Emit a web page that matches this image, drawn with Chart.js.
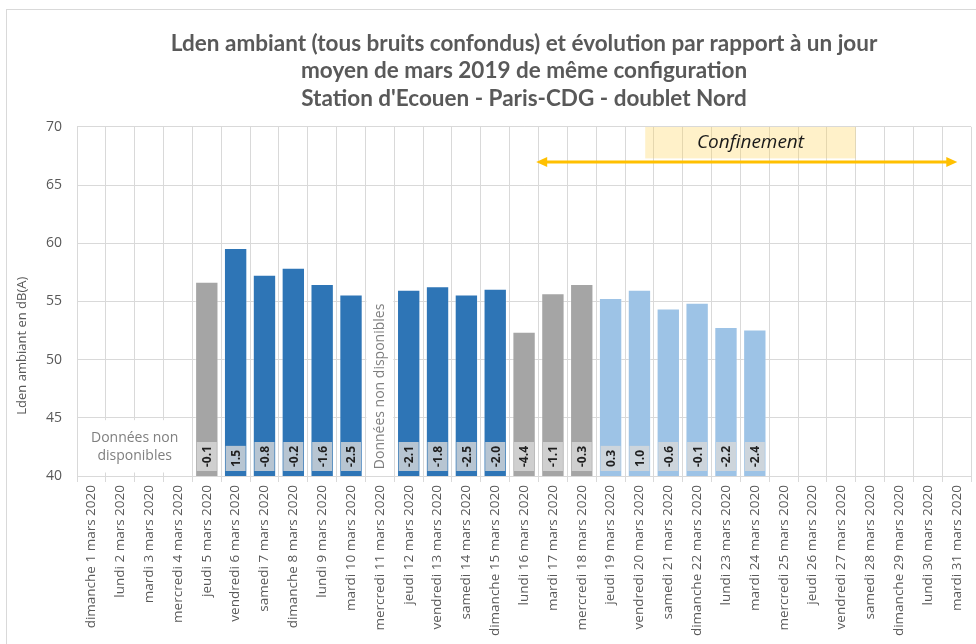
<!DOCTYPE html>
<html lang="fr">
<head>
<meta charset="utf-8">
<title>Lden ambiant - Station d'Ecouen</title>
<script src="https://cdn.jsdelivr.net/npm/chart.js@4.4.1/dist/chart.umd.min.js"></script>
<style>
  html, body { margin: 0; padding: 0; background: #fff; overflow: hidden; }
  #frame { position: absolute; left: 6px; top: 9px; width: 990px; height: 660px; border: 1px solid #d9d9d9; box-sizing: border-box; }
  #wrap { position: absolute; left: 0; top: 0; width: 976px; height: 644px; }
</style>
</head>
<body>
<div id="frame"></div>
<div id="wrap"><canvas id="chart"></canvas></div>
<script>
// ---------------- Data ----------------
const days = [
    "dimanche 1 mars 2020", "lundi 2 mars 2020", "mardi 3 mars 2020", "mercredi 4 mars 2020",
    "jeudi 5 mars 2020", "vendredi 6 mars 2020", "samedi 7 mars 2020", "dimanche 8 mars 2020",
    "lundi 9 mars 2020", "mardi 10 mars 2020", "mercredi 11 mars 2020", "jeudi 12 mars 2020",
    "vendredi 13 mars 2020", "samedi 14 mars 2020", "dimanche 15 mars 2020", "lundi 16 mars 2020",
    "mardi 17 mars 2020", "mercredi 18 mars 2020", "jeudi 19 mars 2020", "vendredi 20 mars 2020",
    "samedi 21 mars 2020", "dimanche 22 mars 2020", "lundi 23 mars 2020", "mardi 24 mars 2020",
    "mercredi 25 mars 2020", "jeudi 26 mars 2020", "vendredi 27 mars 2020", "samedi 28 mars 2020",
    "dimanche 29 mars 2020", "lundi 30 mars 2020", "mardi 31 mars 2020"
];

// Lden (dB(A)) per day, split by bar colour
const ldenGrey = [null, null, null, null, 56.7, null, null, null, null, null, null, null, null, null, null,
    52.4, 55.7, 56.5, null, null, null, null, null, null, null, null, null, null, null, null, null];
const ldenBlue = [null, null, null, null, null, 59.6, 57.3, 57.9, 56.5, 55.6, null, 56.0, 56.3, 55.6, 56.1,
    null, null, null, null, null, null, null, null, null, null, null, null, null, null, null, null];
const ldenLightBlue = [null, null, null, null, null, null, null, null, null, null, null, null, null, null, null,
    null, null, null, 55.3, 56.0, 54.4, 54.9, 52.8, 52.6, null, null, null, null, null, null, null];

// evolution vs. average March 2019 day (dB)
const deltas = [null, null, null, null, -0.1, 1.5, -0.8, -0.2, -1.6, -2.5, null, -2.1, -1.8, -2.5, -2.0,
    -4.4, -1.1, -0.3, 0.3, 1.0, -0.6, -0.1, -2.2, -2.4, null, null, null, null, null, null, null];

const yTicks = [40, 45, 50, 55, 60, 65, 70];

const FONT = "'Open Sans', 'Noto Sans', sans-serif";
const TXT = "#595959";
const GRID = "#d9d9d9";

// ---------------- Annotations ----------------
const annotations = {
    id: "annotations",
    beforeDatasetsDraw(chart) {
        const { ctx, chartArea } = chart;
        const x = chart.scales.x, y = chart.scales.y;
        const step = x.getPixelForValue(1) - x.getPixelForValue(0);
        ctx.save();

        // no data: first days
        const l0 = x.getPixelForValue(0) - step / 2 + 1;
        const r0 = x.getPixelForValue(3) + step / 2 - 3;
        ctx.fillStyle = "#fff";
        ctx.fillRect(l0, y.getPixelForValue(44.8), r0 - l0, y.getPixelForValue(40.3) - y.getPixelForValue(44.8));
        ctx.fillStyle = "#7f7f7f";
        ctx.font = "14px " + FONT;
        ctx.textAlign = "center";
        ctx.textBaseline = "middle";
        const cx0 = (x.getPixelForValue(1) + x.getPixelForValue(2)) / 2;
        ctx.fillText("Données non", cx0, y.getPixelForValue(43.3));
        ctx.fillText("disponibles", cx0, y.getPixelForValue(41.7));

        // no data: 11 mars (vertical)
        const cx1 = x.getPixelForValue(10);
        ctx.fillStyle = "#fff";
        ctx.fillRect(cx1 - step / 2 + 1, y.getPixelForValue(55.2), step - 2, y.getPixelForValue(40.3) - y.getPixelForValue(55.2));
        ctx.translate(cx1, y.getPixelForValue(47.7));
        ctx.rotate(-Math.PI / 2);
        ctx.fillStyle = "#7f7f7f";
        ctx.fillText("Données non disponibles", 0, 0);
        ctx.setTransform(1, 0, 0, 1, 0, 0);

        // confinement box
        const bl = x.getPixelForValue(19.2), br = x.getPixelForValue(26.5);
        ctx.fillStyle = "rgba(255, 214, 90, 0.33)";
        ctx.fillRect(bl, chartArea.top, br - bl, y.getPixelForValue(67.3) - chartArea.top);
        ctx.fillStyle = "#1a1a1a";
        ctx.font = "italic 19px " + FONT;
        ctx.fillText("Confinement", (bl + br) / 2, y.getPixelForValue(68.7));

        // double arrow
        const ay = y.getPixelForValue(67.0);
        const ax1 = x.getPixelForValue(15.42), ax2 = x.getPixelForValue(30.02);
        ctx.strokeStyle = "#FFC000";
        ctx.fillStyle = "#FFC000";
        ctx.lineWidth = 3;
        ctx.beginPath();
        ctx.moveTo(ax1 + 8, ay);
        ctx.lineTo(ax2 - 8, ay);
        ctx.stroke();
        ctx.beginPath();
        ctx.moveTo(ax1, ay); ctx.lineTo(ax1 + 11, ay - 5); ctx.lineTo(ax1 + 11, ay + 5); ctx.closePath();
        ctx.moveTo(ax2, ay); ctx.lineTo(ax2 - 11, ay - 5); ctx.lineTo(ax2 - 11, ay + 5); ctx.closePath();
        ctx.fill();
        ctx.restore();
    },
    afterDatasetsDraw(chart) {
        const { ctx } = chart;
        const y = chart.scales.y;
        const base = y.getPixelForValue(40);
        ctx.save();
        ctx.font = "bold 12px " + FONT;
        ctx.textBaseline = "middle";
        ctx.textAlign = "left";
        chart.data.datasets.forEach((ds, di) => {
            const meta = chart.getDatasetMeta(di);
            ds.data.forEach((v, i) => {
                if (v == null || deltas[i] == null) return;
                const bar = meta.data[i];
                const txt = deltas[i].toFixed(1);
                const tw = ctx.measureText(txt).width;
                const h = tw + 8, w = 20;
                const bottom = base - 5;
                ctx.fillStyle = "rgba(217, 217, 217, 0.8)";
                ctx.fillRect(bar.x - w / 2, bottom - h, w, h);
                ctx.save();
                ctx.translate(bar.x + 1, bottom - 4);
                ctx.rotate(-Math.PI / 2);
                ctx.fillStyle = "#1f1f1f";
                ctx.fillText(txt, 0, 0);
                ctx.restore();
            });
        });
        ctx.restore();
    },
    afterDraw(chart) {
        // y axis title
        const { ctx } = chart;
        const y = chart.scales.y;
        ctx.save();
        ctx.translate(22, y.getPixelForValue(51.2));
        ctx.rotate(-Math.PI / 2);
        ctx.font = "13px " + FONT;
        ctx.fillStyle = TXT;
        ctx.textAlign = "center";
        ctx.textBaseline = "middle";
        ctx.fillText("Lden ambiant en dB(A)", 0, 0);
        ctx.restore();
    }
};

// ---------------- Chart ----------------
const barStyle = { borderWidth: 1, borderColor: "rgba(255,255,255,0.35)", barPercentage: 0.81, categoryPercentage: 1 };

new Chart(document.getElementById("chart"), {
    type: "bar",
    data: {
        labels: days,
        datasets: [
            { label: "gris", data: ldenGrey, backgroundColor: "#A5A5A5", ...barStyle },
            { label: "avant confinement", data: ldenBlue, backgroundColor: "#2E75B6", ...barStyle },
            { label: "confinement", data: ldenLightBlue, backgroundColor: "#9DC3E6", ...barStyle }
        ]
    },
    options: {
        responsive: true,
        maintainAspectRatio: false,
        animation: false,
        layout: { padding: { left: 0, right: 3, top: 0, bottom: 0 } },
        plugins: {
            legend: { display: false },
            tooltip: { enabled: false },
            title: {
                display: true,
                fullSize: false,
                text: [
                    "Lden ambiant (tous bruits confondus) et évolution par rapport à un jour",
                    "moyen de mars 2019 de même configuration",
                    "Station d'Ecouen - Paris-CDG - doublet Nord"
                ],
                color: TXT,
                font: { family: "Lato, 'Open Sans', sans-serif", size: 22.5, weight: "bold", lineHeight: 1.222 },
                padding: { top: 30, bottom: 14.5 }
            }
        },
        scales: {
            x: {
                stacked: true,
                grid: { offset: true, color: GRID, tickLength: 6, tickColor: GRID },
                border: { color: GRID },
                ticks: {
                    autoSkip: false, maxRotation: 90, minRotation: 90, padding: 3,
                    color: TXT, font: { family: FONT, size: 13.5 }
                },
                afterFit: s => { s.height = 168; }
            },
            y: {
                stacked: false,
                min: 40, max: 70,
                afterBuildTicks: s => { s.ticks = yTicks.map(v => ({ value: v })); },
                grid: { color: GRID, drawTicks: false },
                border: { display: false },
                ticks: { padding: 15, color: TXT, font: { family: FONT, size: 14 } },
                afterFit: s => { s.width = 77; }
            }
        }
    },
    plugins: [annotations]
});
</script>
</body>
</html>
